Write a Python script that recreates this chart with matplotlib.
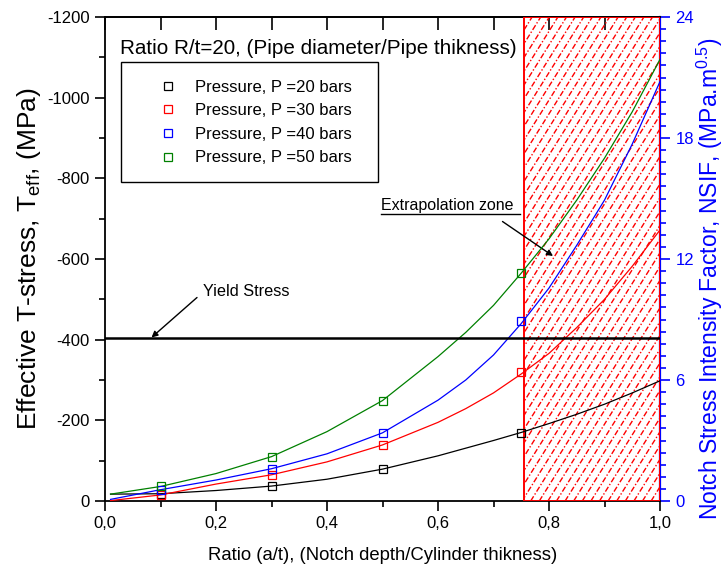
import matplotlib
matplotlib.use("Agg")
import matplotlib.pyplot as plt
import numpy as np
from matplotlib.patches import Rectangle
from matplotlib.ticker import MultipleLocator, FixedLocator

plt.rcParams['font.family'] = ['Liberation Sans', 'DejaVu Sans']
plt.rcParams['mathtext.fontset'] = 'custom'
plt.rcParams['mathtext.rm'] = 'Liberation Sans'
plt.rcParams['mathtext.it'] = 'Liberation Sans:italic'

# ---- data ----
labels = ["Pressure, P =20 bars", "Pressure, P =30 bars",
          "Pressure, P =40 bars", "Pressure, P =50 bars"]
colors = ["black", "#ff0000", "#0000ff", "#008000"]

x_pts = [0.1, 0.3, 0.5, 0.75]
p20_pts = [-17, -36, -79, -169]
p30_pts = [-15, -65, -139, -320]
p40_pts = [-27, -79, -169, -446]
p50_pts = [-38, -110, -249, -565]

x_fit = [0.01, 0.1, 0.2, 0.3, 0.4, 0.5, 0.6, 0.65, 0.7, 0.75, 0.8, 0.85,
         0.9, 0.95, 1.0]
p20_fit = [-17, -18, -26, -37, -54, -79, -112, -131, -150, -170, -192, -215,
           -240, -268, -298]
p30_fit = [-1, -15, -42, -65, -97, -139, -195, -229, -268, -315, -366, -430,
           -500, -582, -672]
p40_fit = [-4, -28, -52, -80, -117, -169, -250, -300, -362, -440, -528, -634,
           -746, -885, -1040]
p50_fit = [-17, -36, -68, -110, -172, -249, -358, -418, -485, -565, -650,
           -746, -850, -965, -1095]

yield_stress = -405
extrap_start = 0.755

x_ticks = [0.0, 0.2, 0.4, 0.6, 0.8, 1.0]
x_ticklabels = ["0,0", "0,2", "0,4", "0,6", "0,8", "1,0"]
y_ticks = [0, -200, -400, -600, -800, -1000, -1200]
y_ticklabels = ["0", "-200", "-400", "-600", "-800", "-1000", "-1200"]
r_ticks = [0, 6, 12, 18, 24]

# ---- figure ----
W, H = 725, 574
fig = plt.figure(figsize=(W / 100, H / 100), dpi=100)
L, R, T, B = 105, 660, 17, 501
ax = fig.add_axes([L / W, 1 - B / H, (R - L) / W, (B - T) / H])

ax.set_xlim(0, 1.0)
ax.set_ylim(0, -1200)

fits = [p20_fit, p30_fit, p40_fit, p50_fit]
pts = [p20_pts, p30_pts, p40_pts, p50_pts]
handles = []
for f, p, c, lab in zip(fits, pts, colors, labels):
    ax.plot(x_fit, f, color=c, lw=0.9, zorder=4)
    h, = ax.plot(x_pts, p, ls='none', marker='s', ms=5.6, mfc='none',
                 mec=c, mew=0.9, zorder=5, label=lab)
    handles.append(h)

# yield line
ax.axhline(yield_stress, color='black', lw=1.8, zorder=6)

# extrapolation zone
rect = Rectangle((extrap_start, 0), 1.0 - extrap_start, -1200, fill=False,
                 edgecolor='#ff0000', lw=1.4, zorder=3)
ax.add_patch(rect)
clip = Rectangle((extrap_start, 0), 1.0 - extrap_start, -1200,
                 transform=ax.transData, fill=False, lw=0)
ax.add_patch(clip)
clip.set_visible(False)
slope = 1.6 * (R - L) / (B - T)
for x0 in np.arange(-1.0, 1.2, 0.0155):
    ln, = ax.plot([x0, x0 + 1.0 / slope], [0, 1], transform=ax.transAxes,
                  color='#ff0000', lw=1.0, ls=(0, (4, 1.5, 1, 1.5)), zorder=2)
    ln.set_clip_path(clip)

# axes styling
for s in ['left', 'bottom', 'top']:
    ax.spines[s].set_linewidth(1.3)
ax.spines['right'].set_visible(False)

ax.xaxis.set_major_locator(FixedLocator(x_ticks))
ax.set_xticklabels(x_ticklabels)
ax.xaxis.set_minor_locator(MultipleLocator(0.1))
ax.yaxis.set_major_locator(FixedLocator(y_ticks))
ax.set_yticklabels(y_ticklabels)
ax.yaxis.set_minor_locator(MultipleLocator(100))
ax.tick_params(axis='both', which='major', direction='out', length=7,
               width=1.2, labelsize=12, pad=4)
ax.tick_params(axis='both', which='minor', direction='out', length=4,
               width=1.2)
ax.tick_params(axis='x', which='both', top=False, labeltop=False)

ax.set_xlabel("Ratio (a/t), (Notch depth/Cylinder thikness)", fontsize=13.3)
ax.xaxis.label.set_va('center')
ax.xaxis.set_label_coords(382.5 / W, 1 - 555 / H, transform=fig.transFigure)
ax.set_ylabel("Effective T-stress, T$_{\\mathrm{eff}}$, (MPa)", fontsize=19)
ax.yaxis.label.set_va('center')
ax.yaxis.set_label_coords(29 / W, 1 - 259 / H, transform=fig.transFigure)

# right axis
ax2 = ax.twinx()
ax2.set_ylim(0, 24)
ax2.yaxis.set_major_locator(FixedLocator(r_ticks))
ax2.yaxis.set_minor_locator(MultipleLocator(0.6))
for s in ['left', 'bottom']:
    ax2.spines[s].set_visible(False)
ax2.spines['top'].set_linewidth(1.3)
ax2.spines['right'].set_color('#0000ff')
ax2.spines['right'].set_linewidth(1.6)
ax2.tick_params(axis='y', which='major', direction='out', length=7, width=1.2,
                colors='#0000ff', labelsize=12, pad=4)
ax2.tick_params(axis='y', which='minor', direction='out', length=4, width=1.2,
                colors='#0000ff')
ax2.xaxis.set_visible(True)
ax2.tick_params(axis='x', which='both', top=True, bottom=False,
                labeltop=False, labelbottom=False, direction='in',
                length=9, width=1.2)
ax2.set_ylabel("Notch Stress Intensity Factor, NSIF, (MPa.m$^{0.5}$)",
               fontsize=16.5, color='#0000ff')
ax2.yaxis.label.set_va('center')
ax2.yaxis.set_label_coords(710 / W, 1 - 279 / H, transform=fig.transFigure)

# annotations
fig.text(120.5 / W, 1 - 48.5 / H, "Ratio R/t=20, (Pipe diameter/Pipe thikness)",
         fontsize=14.9, va='center', ha='left')

# legend frame and entries
fig.add_artist(Rectangle((120.7 / W, 1 - 182.3 / H), (377.7 - 120.7) / W,
                         (182.3 - 61.7) / H, transform=fig.transFigure,
                         fill=False, edgecolor='black', lw=1.0))
leg_fs = 12
leg = ax.legend(handles=handles, loc='center left',
                bbox_to_anchor=(159.3 / W, 1 - 122.5 / H),
                bbox_transform=fig.transFigure, fontsize=leg_fs, frameon=False,
                borderpad=0, labelspacing=0.52, handlelength=1.0,
                handletextpad=1.12, borderaxespad=0)
leg.set_zorder(10)
ax.set_zorder(ax2.get_zorder() + 1)
ax.patch.set_visible(False)

fig.text(203 / W, 1 - 291 / H, "Yield Stress", fontsize=11.7, va='center',
         ha='left')
ax.annotate("", xy=(151.5 / W, 1 - 337.5 / H), xycoords='figure fraction',
            xytext=(197 / W, 1 - 297.5 / H), textcoords='figure fraction',
            arrowprops=dict(arrowstyle='-|>', color='black', lw=1.0,
                            mutation_scale=9, shrinkA=0, shrinkB=0))
fig.text(381 / W, 1 - 206 / H, "Extrapolation zone", fontsize=11.5,
         va='center', ha='left')
fig.add_artist(plt.Line2D([381 / W, 519.5 / W], [1 - 214 / H, 1 - 214 / H],
                          color='black', lw=1.0))
ax.annotate("", xy=(553 / W, 1 - 256 / H), xycoords='figure fraction',
            xytext=(502.5 / W, 1 - 221.5 / H), textcoords='figure fraction',
            arrowprops=dict(arrowstyle='-|>', color='black', lw=1.0,
                            mutation_scale=9, shrinkA=0, shrinkB=0))

fig.savefig("out.png", dpi=100)
